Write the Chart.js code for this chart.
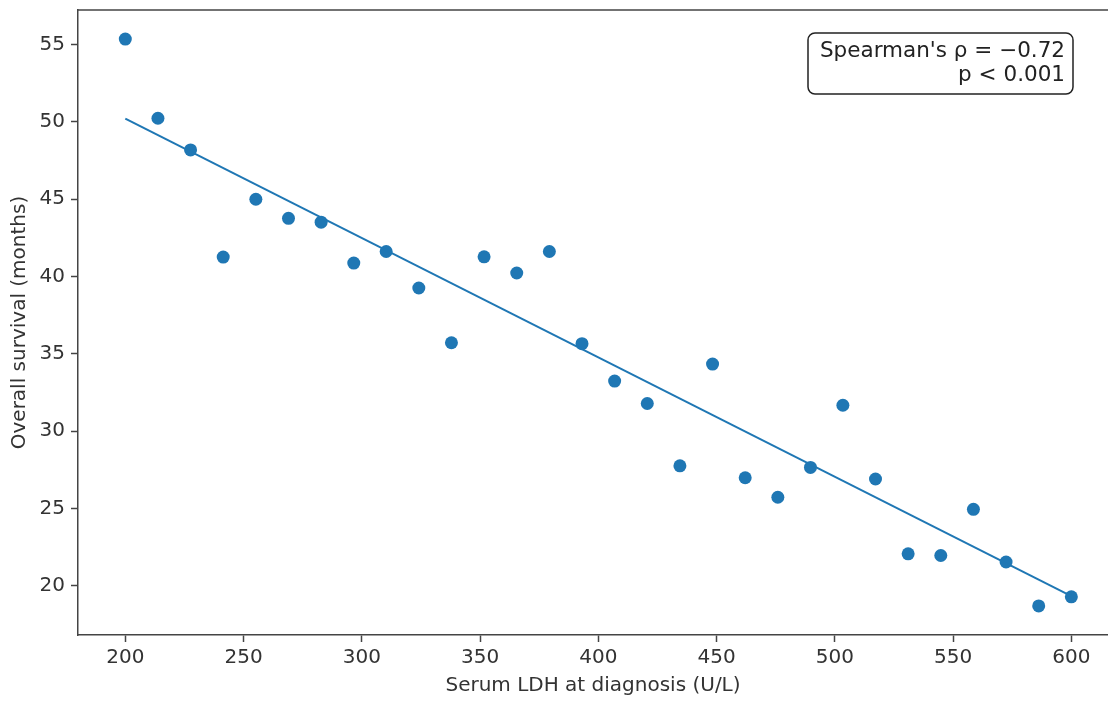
<!DOCTYPE html>
<html>
<head>
<meta charset="utf-8">
<script src="https://cdn.jsdelivr.net/npm/chart.js@4/dist/chart.umd.min.js"></script>
<style>
  html, body { margin: 0; padding: 0; background: #ffffff; }
  #wrap { width: 1108px; height: 702px; }
</style>
</head>
<body>
<div id="wrap"><canvas id="c" width="1108" height="702"></canvas></div>
<script>
// ---- data ----
const ldhValues = [200, 213.8, 227.6, 241.4, 255.2, 269.0, 282.8, 296.6, 310.3, 324.1,
                   337.9, 351.7, 365.5, 379.3, 393.1, 406.9, 420.7, 434.5, 448.3, 462.1,
                   475.9, 489.7, 503.4, 517.2, 531.0, 544.8, 558.6, 572.4, 586.2, 600];
const survivalValues = [55.35, 50.23, 48.18, 41.25, 44.99, 43.76, 43.51, 40.86, 41.61, 39.25,
                        35.71, 41.27, 40.22, 41.61, 35.65, 33.23, 31.78, 27.75, 34.33, 26.98,
                        25.72, 27.65, 31.67, 26.90, 22.06, 21.95, 24.94, 21.53, 18.69, 19.28];
const fitX = [200, 600];
const fitY = [50.21, 19.33];
const xTickValues = [200, 250, 300, 350, 400, 450, 500, 550, 600];
const yTickValues = [20, 25, 30, 35, 40, 45, 50, 55];
const annotationLines = ["Spearman's \u03C1 = \u22120.72", "p < 0.001"];
const xTitle = "Serum LDH at diagnosis (U/L)";
const yTitle = "Overall survival (months)";

const scatterPoints = ldhValues.map((x, i) => ({ x: x, y: survivalValues[i] }));
const fitPoints = fitX.map((x, i) => ({ x: x, y: fitY[i] }));

const BLUE = '#1f77b4';
const AXIS = '#444444';
const TEXT = '#333333';
const FONT = "'DejaVu Sans', sans-serif";

function zeroPad(scale) {
  scale.paddingTop = 0;
  scale.paddingBottom = 0;
  scale.paddingLeft = 0;
  scale.paddingRight = 0;
}

const framePlugin = {
  id: 'frame',
  afterDraw(chart) {
    const ctx = chart.ctx;
    const a = chart.chartArea;
    ctx.save();
    // top spine
    ctx.strokeStyle = AXIS;
    ctx.lineWidth = 1.5;
    ctx.beginPath();
    ctx.moveTo(a.left, a.top);
    ctx.lineTo(a.right, a.top);
    ctx.stroke();

    // annotation box (top-right)
    const bx = a.right - 300, by = a.top + 23, bw = 265, bh = 61, r = 7;
    ctx.beginPath();
    ctx.moveTo(bx + r, by);
    ctx.lineTo(bx + bw - r, by);
    ctx.arcTo(bx + bw, by, bx + bw, by + r, r);
    ctx.lineTo(bx + bw, by + bh - r);
    ctx.arcTo(bx + bw, by + bh, bx + bw - r, by + bh, r);
    ctx.lineTo(bx + r, by + bh);
    ctx.arcTo(bx, by + bh, bx, by + bh - r, r);
    ctx.lineTo(bx, by + r);
    ctx.arcTo(bx, by, bx + r, by, r);
    ctx.closePath();
    ctx.fillStyle = '#ffffff';
    ctx.fill();
    ctx.strokeStyle = '#222222';
    ctx.lineWidth = 1.5;
    ctx.stroke();

    ctx.fillStyle = '#222222';
    ctx.font = "21.5px " + FONT;
    ctx.textAlign = 'right';
    ctx.textBaseline = 'middle';
    ctx.fillText(annotationLines[0], bx + bw - 8, by + 18);
    ctx.fillText(annotationLines[1], bx + bw - 8, by + 42);
    ctx.restore();
  }
};

new Chart(document.getElementById('c'), {
  type: 'scatter',
  data: {
    datasets: [
      {
        type: 'line',
        data: fitPoints,
        borderColor: BLUE,
        borderWidth: 2,
        pointRadius: 0,
        fill: false,
        tension: 0,
        order: 1
      },
      {
        data: scatterPoints,
        backgroundColor: BLUE,
        borderWidth: 0,
        pointRadius: 6.5,
        order: 2
      }
    ]
  },
  options: {
    responsive: false,
    animation: false,
    events: [],
    layout: { autoPadding: false, padding: { top: 10, left: 0, right: 0, bottom: 0 } },
    plugins: { legend: { display: false }, tooltip: { enabled: false } },
    scales: {
      x: {
        type: 'linear',
        min: 180,
        max: 615.5,
        afterFit(scale) { scale.height = 67; zeroPad(scale); },
        afterBuildTicks(scale) { scale.ticks = xTickValues.map(v => ({ value: v })); },
        grid: { drawOnChartArea: false, drawTicks: true, tickLength: 7, color: AXIS, tickWidth: 1.5 },
        border: { display: true, color: AXIS, width: 1.5 },
        ticks: { color: TEXT, font: { family: FONT, size: 20 }, padding: 4, maxRotation: 0 },
        title: { display: true, text: xTitle, color: TEXT, font: { family: FONT, size: 20 }, padding: { top: 0, bottom: 4 } }
      },
      y: {
        type: 'linear',
        min: 16.81,
        max: 57.23,
        afterFit(scale) { scale.width = 78; zeroPad(scale); },
        afterBuildTicks(scale) { scale.ticks = yTickValues.map(v => ({ value: v })); },
        grid: { drawOnChartArea: false, drawTicks: true, tickLength: 7, color: AXIS, tickWidth: 1.5 },
        border: { display: true, color: AXIS, width: 1.5 },
        ticks: { color: TEXT, font: { family: FONT, size: 20 }, padding: 6 },
        title: { display: true, text: yTitle, color: TEXT, font: { family: FONT, size: 20 }, padding: { top: 8, bottom: 0 } }
      }
    }
  },
  plugins: [framePlugin]
});
</script>
</body>
</html>
